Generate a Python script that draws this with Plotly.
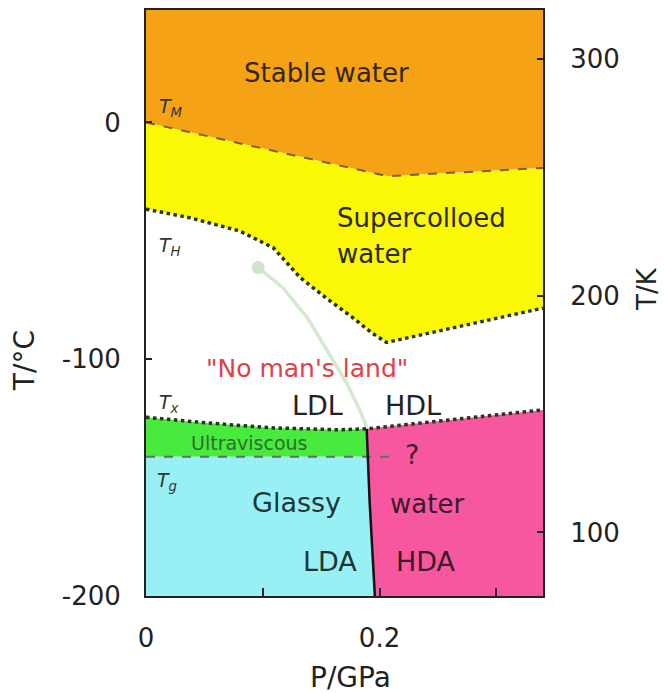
import plotly.graph_objects as go

# ---------------- data (P in GPa, T in deg C) ----------------
P_MIN, P_MAX = 0.0, 0.34
T_MIN, T_MAX = -200.0, 47.5

# melting line T_M (dashed)
tm_p = [0.0, 0.207, 0.34]
tm_t = [0.0, -22.7, -19.2]

# homogeneous nucleation line T_H (dotted)
th_p = [0.0, 0.038, 0.080, 0.109, 0.132, 0.155, 0.177, 0.194, 0.206, 0.34]
th_t = [-36.6, -40.3, -45.8, -52.9, -65.5, -74.4, -82.4, -89.1, -92.9, -78.4]

# crystallisation line T_x (dotted)
tx_p = [0.0, 0.052, 0.109, 0.166, 0.189, 0.34]
tx_t = [-124.5, -126.9, -129.0, -129.8, -129.4, -121.4]

# glass transition T_g (dashed)
tg_p = [0.0, 0.212]
tg_t = [-141.2, -141.2]

# LDA / HDA boundary (solid)
bd_p = [0.189, 0.190, 0.1915, 0.196]
bd_t = [-129.4, -141.2, -160.0, -200.0]

# LDL / HDL line from the critical point (faint green)
gc_p = [0.096, 0.117, 0.138, 0.155, 0.172, 0.183, 0.189]
gc_t = [-61.3, -69.7, -82.4, -96.2, -110.1, -121.4, -128.6]

# region labels
labels = ["Stable water", "\"No man's land\"", "LDL", "HDL", "Ultraviscous", "?",
          "Glassy", "water", "LDA", "HDA"]
label_p = [0.155, 0.138, 0.147, 0.229, 0.089, 0.228, 0.129, 0.2405, 0.158, 0.240]
label_t = [21.0, -103.8, -119.7, -119.7, -135.3, -140.3, -160.7, -161.3, -185.3, -185.3]

sc_labels = ["Supercolloed", "water"]
sc_p = [0.162, 0.162]
sc_t = [-40.3, -55.5]

t_labels = ["<i>T<sub>M</sub></i>", "<i>T<sub>H</sub></i>", "<i>T<sub>x</sub></i>", "<i>T<sub>g</sub></i>"]
t_label_p = [0.0094, 0.0094, 0.0094, 0.0077]
t_label_t = [6.3, -52.5, -118.9, -151.7]

x_ticks = [0, 0.1, 0.2, 0.3]
x_ticktext = ["0", "", "0.2", ""]
y_ticks = [-200, -100, 0]
y_ticktext = ["-200", "-100", "0"]
k_ticks = [100, 200, 300]
k_ticktext = ["100", "200", "300"]

FONT = "DejaVu Sans"
fig = go.Figure()

def poly(xs, ys, color):
    fig.add_trace(go.Scatter(x=xs, y=ys, mode="lines", fill="toself", fillcolor=color,
                             line=dict(width=0), hoverinfo="skip", showlegend=False))

# orange: stable water
poly(tm_p + [P_MAX, P_MIN], tm_t + [T_MAX, T_MAX], "#F6A215")
# yellow: supercooled
poly(tm_p + th_p[::-1], tm_t + th_t[::-1], "#FAF805")
# green: ultraviscous
poly(tx_p[:5] + [bd_p[1], tg_p[0]], tx_t[:5] + [bd_t[1], tg_t[0]], "#48EA3E")
# cyan: LDA
poly([tg_p[0]] + bd_p[1:] + [P_MIN], [tg_t[0]] + bd_t[1:] + [T_MIN], "#98F0F4")
# pink: HDA
poly(bd_p + [P_MAX] + tx_p[4:][::-1], bd_t + [T_MIN] + tx_t[4:][::-1], "#F6579F")

def line(xs, ys, color, width, dash):
    fig.add_trace(go.Scatter(x=xs, y=ys, mode="lines", line=dict(color=color, width=width, dash=dash),
                             hoverinfo="skip", showlegend=False))

# faint green curve with dot
line(gc_p, gc_t, "#d4e9d0", 3.5, "solid")
fig.add_trace(go.Scatter(x=[gc_p[0]], y=[gc_t[0]], mode="markers",
                         marker=dict(size=13, color="#cfe5cb"), hoverinfo="skip", showlegend=False))

line(tm_p, tm_t, "#7a6236", 2, "dash")
line(th_p, th_t, "#26361a", 3.5, "dot")
line(tx_p, tx_t, "#26361a", 3.5, "dot")
line(tg_p, tg_t, "#5f7060", 2, "dash")
line(bd_p, bd_t, "#111111", 2.5, "solid")

# invisible trace on the Kelvin axis so it is drawn
fig.add_trace(go.Scatter(x=[0.1], y=[150], yaxis="y2", mode="markers",
                         marker=dict(opacity=0), hoverinfo="skip", showlegend=False))

label_colors = ["#33270f", "#e0404a", "#222222", "#222222", "#2d6e2d", "#3a2030",
                "#1e3538", "#3a1a2c", "#1e3538", "#3a1a2c"]
label_sizes = [26, 25, 27, 27, 19, 27, 27, 26, 27, 27]
for txt, px, ty, c, s in zip(labels, label_p, label_t, label_colors, label_sizes):
    fig.add_annotation(x=px, y=ty, text=txt, showarrow=False, xanchor="center", yanchor="middle",
                       font=dict(family=FONT, size=s, color=c))
for txt, px, ty in zip(sc_labels, sc_p, sc_t):
    fig.add_annotation(x=px, y=ty, text=txt, showarrow=False, xanchor="left", yanchor="middle",
                       font=dict(family=FONT, size=26, color="#2a2a10"))
for txt, px, ty in zip(t_labels, t_label_p, t_label_t):
    fig.add_annotation(x=px, y=ty, text=txt, showarrow=False, xanchor="left", yanchor="middle",
                       font=dict(family=FONT, size=19, color="#333333"))

# axis titles
fig.add_annotation(xref="paper", yref="paper", x=-0.307, y=0.401, text="T/°C", textangle=-90,
                   xanchor="center", yanchor="middle",
                   showarrow=False, font=dict(family=FONT, size=28, color="#222222"))
fig.add_annotation(xref="paper", yref="paper", x=1.262, y=0.524, text="T/K", textangle=-90,
                   xanchor="center", yanchor="middle",
                   showarrow=False, font=dict(family=FONT, size=26, color="#222222"))
fig.add_annotation(xref="paper", yref="paper", x=0.514, y=-0.139, text="P/GPa",
                   xanchor="center", yanchor="middle",
                   showarrow=False, font=dict(family=FONT, size=28, color="#222222"))

axis_common = dict(showline=True, linecolor="#222222", linewidth=2, showgrid=False, zeroline=False,
                   ticks="inside", tickcolor="#222222", tickwidth=2,
                   tickfont=dict(family=FONT, size=26, color="#222222"))

fig.update_layout(
    width=664, height=693,
    margin=dict(l=146, r=121, t=8, b=97),
    paper_bgcolor="white", plot_bgcolor="white",
    showlegend=False,
    xaxis=dict(range=[P_MIN, P_MAX], tickvals=x_ticks, ticktext=x_ticktext, ticklen=8,
               mirror=True, ticklabelstandoff=18, **axis_common),
    yaxis=dict(range=[T_MIN, T_MAX], tickvals=y_ticks, ticktext=y_ticktext, ticklen=6, mirror=True,
               ticklabelstandoff=18, **axis_common),
    yaxis2=dict(range=[T_MIN + 273.15, T_MAX + 273.15], tickvals=k_ticks, ticktext=k_ticktext,
                ticklen=6, overlaying="y", side="right", ticklabelstandoff=20, **axis_common),
)

fig.write_html("out.html")
